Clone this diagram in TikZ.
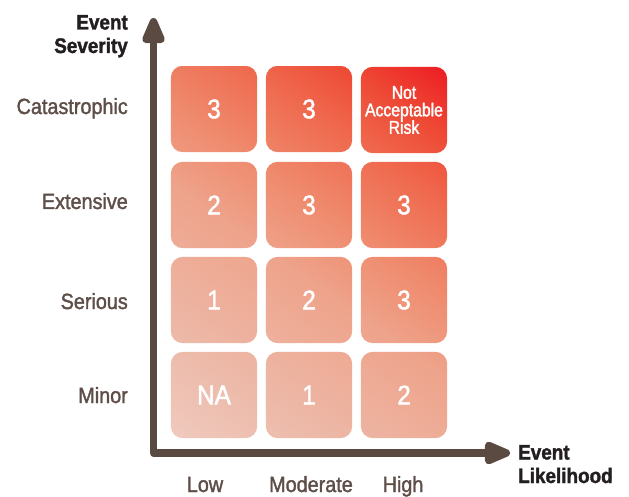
\documentclass[tikz,border=0pt]{standalone}
\usepackage{fontspec}
\setmainfont{Liberation Sans}[FakeStretch=0.9, FakeBold=1.6]
\newfontfamily\condfont{Liberation Sans}[FakeStretch=0.85, FakeBold=1.8]
\usetikzlibrary{arrows.meta,backgrounds}
\definecolor{axisbrown}{HTML}{5B4A42}
\definecolor{labelbrown}{HTML}{5E4E48}
\definecolor{titleblack}{HTML}{231F20}
\definecolor{r0}{HTML}{F0CABE}
\definecolor{r1}{HTML}{EDBCAC}
\definecolor{r2}{HTML}{EEA38B}
\definecolor{r3}{HTML}{EF896C}
\definecolor{r4}{HTML}{EF6A4F}
\definecolor{r5}{HTML}{EE4834}
\definecolor{r6}{HTML}{ED1C24}
\pgfdeclarehorizontalshading{riskshade}{100bp}{color(0bp)=(r0); color(15.2bp)=(r0); color(25.6bp)=(r1); color(46.5bp)=(r2); color(57bp)=(r3); color(67.4bp)=(r4); color(76.4bp)=(r5); color(84.8bp)=(r6); color(100bp)=(r6)}
\tikzset{
  cell/.style={minimum width=86pt, minimum height=86pt, inner sep=0pt, text=white, font=\fontsize{27}{30}\selectfont},
  risktext/.style={cell, align=center, font=\condfont\fontsize{18.5}{17.5}\selectfont},
  rowlabel/.style={anchor=base east, inner sep=0pt, text=labelbrown, font=\fontsize{22}{24}\selectfont},
  collabel/.style={anchor=base, inner sep=0pt, text=labelbrown, font=\fontsize{22}{24}\selectfont},
  axistitle/.style={inner sep=0pt, text=titleblack, font=\bfseries\fontsize{21}{23.5}\selectfont},
  axis/.style={draw=axisbrown, line width=7.5pt, line join=round,
    arrows={Triangle[round, length=32pt, width=24pt]-Triangle[round, length=32pt, width=24pt]}}
}
\begin{document}
\begin{tikzpicture}[x=1pt, y=-1pt]
\useasboundingbox (0,0) rectangle (629,497);
% cells: rows top to bottom 1..4, columns left to right 1..3
\node[cell] (c11) at (214,109) {3};
\node[cell] (c12) at (309,109) {3};
\node[risktext] (c13) at (404,110) {Not\\Acceptable\\Risk};
\node[cell] (c21) at (214,205) {2};
\node[cell] (c22) at (309,205) {3};
\node[cell] (c23) at (404,205) {3};
\node[cell] (c31) at (214,300) {1};
\node[cell] (c32) at (309,300) {2};
\node[cell] (c33) at (404,300) {3};
\node[cell] (c41) at (214,395) {NA};
\node[cell] (c42) at (309,395) {1};
\node[cell] (c43) at (404,395) {2};
\begin{pgfonlayer}{background}
\begin{scope}
\clip[rounded corners=12pt]
  (c11.south west) rectangle (c11.north east)
  (c12.south west) rectangle (c12.north east)
  (c13.south west) rectangle (c13.north east)
  (c21.south west) rectangle (c21.north east)
  (c22.south west) rectangle (c22.north east)
  (c23.south west) rectangle (c23.north east)
  (c31.south west) rectangle (c31.north east)
  (c32.south west) rectangle (c32.north east)
  (c33.south west) rectangle (c33.north east)
  (c41.south west) rectangle (c41.north east)
  (c42.south west) rectangle (c42.north east)
  (c43.south west) rectangle (c43.north east);
\shade[shading=riskshade, shading angle=55] (c41.south west) rectangle (c13.north east);
\end{scope}
\end{pgfonlayer}
% axes
\coordinate (ytip) at (153.5,18);
\coordinate (origin) at (153.5,453);
\coordinate (xtip) at (510,453);
\draw[axis] (ytip) -- (origin) -- (xtip);
% axis titles
\node[axistitle, anchor=base east, align=right] (ytitle) at (128,53) {Event\\Severity};
\node[axistitle, anchor=base west, align=left] (xtitle) at (518,483) {Event\\Likelihood};
% row labels
\node[rowlabel] (lcat) at (128,114) {Catastrophic};
\node[rowlabel] (lext) at (128,209) {Extensive};
\node[rowlabel] (lser) at (128,309) {Serious};
\node[rowlabel] (lmin) at (128,403) {Minor};
% column labels
\node[collabel] (llow) at (205,492) {Low};
\node[collabel] (lmod) at (311,492) {Moderate};
\node[collabel] (lhigh) at (403,492) {High};
\end{tikzpicture}
\end{document}
